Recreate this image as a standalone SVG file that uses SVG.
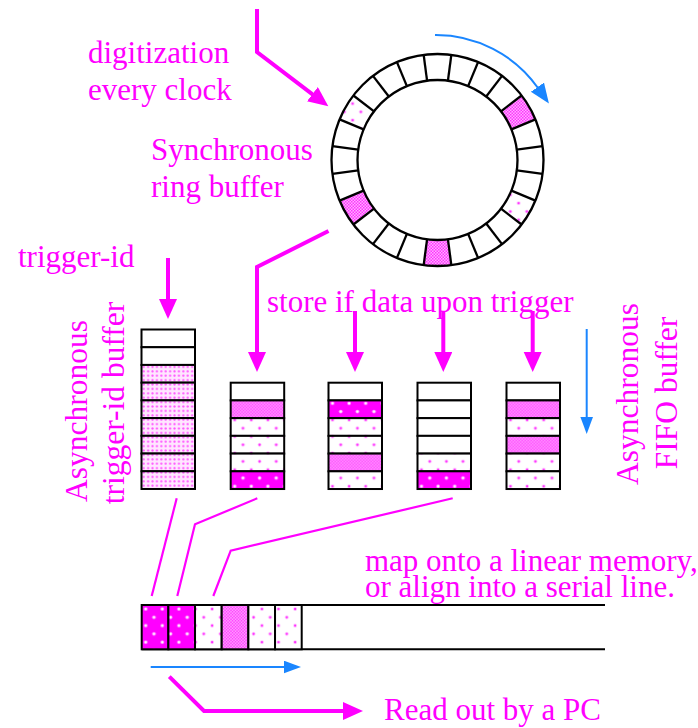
<svg xmlns="http://www.w3.org/2000/svg" xmlns:xlink="http://www.w3.org/1999/xlink" width="698" height="728" viewBox="0 0 698 728">
  <style>
    .t { font-family: "Liberation Serif", "Times New Roman", serif; font-size: 31px; fill: #ff00ff; }
    .tv { font-family: "Liberation Serif", "Times New Roman", serif; font-size: 31.5px; fill: #ff00ff; text-anchor: middle; }
    .cell { stroke: #000; stroke-width: 2; }
    .ring { fill: none; stroke: #000; stroke-width: 2.3; }
    .mag { fill: none; stroke: #ff00ff; stroke-width: 4; }
    .thin { fill: none; stroke: #ff00ff; stroke-width: 2.2; }
    .blue { fill: none; stroke: #1a86ff; stroke-width: 2; }
    .w { fill: #fff; }
    .sp { fill: url(#dots); }
    .md { fill: url(#fine); }
    .dn { fill: url(#dense); }
    .mg { fill: url(#solid); }
  </style>
  <defs>
    <!-- sparse pink dots on white -->
    <pattern id="dots" width="16.6" height="16.6" patternUnits="userSpaceOnUse">
      <rect width="16.6" height="16.6" fill="#fff"/>
      <circle cx="4" cy="4" r="1.9" fill="#ffb8ff"/>
      <circle cx="4" cy="4" r="1.1" fill="#ff22ff"/>
      <circle cx="12.3" cy="12.3" r="1.9" fill="#ffb8ff"/>
      <circle cx="12.3" cy="12.3" r="1.1" fill="#ff22ff"/>
    </pattern>
    <!-- close grid of pink dots -->
    <pattern id="fine" width="4.4" height="4.4" patternUnits="userSpaceOnUse">
      <rect width="4.4" height="4.4" fill="#ffe6ff"/>
      <circle cx="2.2" cy="2.2" r="1.1" fill="#ff55ff"/>
    </pattern>
    <!-- fine pink checker -->
    <pattern id="dense" width="3" height="3" patternUnits="userSpaceOnUse">
      <rect width="3" height="3" fill="#ffb0ff"/>
      <rect width="1.5" height="1.5" fill="#ff33ff"/>
      <rect x="1.5" y="1.5" width="1.5" height="1.5" fill="#ff33ff"/>
    </pattern>
    <!-- magenta with white dots -->
    <pattern id="solid" width="16.6" height="16.6" patternUnits="userSpaceOnUse">
      <rect width="16.6" height="16.6" fill="#ff00ff"/>
      <circle cx="4" cy="4" r="1.9" fill="#ff99ff"/>
      <circle cx="4" cy="4" r="1.1" fill="#fff"/>
      <circle cx="12.3" cy="12.3" r="1.9" fill="#ff99ff"/>
      <circle cx="12.3" cy="12.3" r="1.1" fill="#fff"/>
    </pattern>
    <marker id="headM" markerUnits="userSpaceOnUse" markerWidth="22" markerHeight="20" refX="1" refY="9" orient="auto">
      <path d="M0,0 L20,9 L0,18 Z" fill="#ff00ff"/>
    </marker>
    <marker id="headB" markerUnits="userSpaceOnUse" markerWidth="19" markerHeight="14" refX="1" refY="6.3" orient="auto">
      <path d="M0,0 L17,6.3 L0,12.6 Z" fill="#1a86ff"/>
    </marker>
    <marker id="headBL" markerUnits="userSpaceOnUse" markerWidth="22" markerHeight="18" refX="1" refY="8" orient="auto">
      <path d="M0,0 L20,8 L0,16 Z" fill="#1a86ff"/>
    </marker>
    <line id="divider" x1="517.5" y1="160" x2="543.5" y2="160"/>
  </defs>

  <rect width="698" height="728" fill="#fff"/>

  <!-- synchronous ring buffer: 24 slots -->
  <g id="ring-buffer">
    <path class="dn" d="M521.60,95.47 A106,106 0 0 1 535.43,119.44 L511.41,129.39 A80,80 0 0 0 500.97,111.30 Z"/>
    <path class="sp" d="M535.43,200.56 A106,106 0 0 1 521.60,224.53 L500.97,208.70 A80,80 0 0 0 511.41,190.61 Z"/>
    <path class="dn" d="M451.34,265.09 A106,106 0 0 1 423.66,265.09 L427.06,239.32 A80,80 0 0 0 447.94,239.32 Z"/>
    <path class="dn" d="M353.40,224.53 A106,106 0 0 1 339.57,200.56 L363.59,190.61 A80,80 0 0 0 374.03,208.70 Z"/>
    <path class="sp" d="M339.57,119.44 A106,106 0 0 1 353.40,95.47 L374.03,111.30 A80,80 0 0 0 363.59,129.39 Z"/>
    <circle class="ring" cx="437.5" cy="160" r="106"/>
    <circle class="ring" cx="437.5" cy="160" r="80"/>
    <g class="ring">
      <use xlink:href="#divider" transform="rotate(7.5 437.5 160)"/>
      <use xlink:href="#divider" transform="rotate(22.5 437.5 160)"/>
      <use xlink:href="#divider" transform="rotate(37.5 437.5 160)"/>
      <use xlink:href="#divider" transform="rotate(52.5 437.5 160)"/>
      <use xlink:href="#divider" transform="rotate(67.5 437.5 160)"/>
      <use xlink:href="#divider" transform="rotate(82.5 437.5 160)"/>
      <use xlink:href="#divider" transform="rotate(97.5 437.5 160)"/>
      <use xlink:href="#divider" transform="rotate(112.5 437.5 160)"/>
      <use xlink:href="#divider" transform="rotate(127.5 437.5 160)"/>
      <use xlink:href="#divider" transform="rotate(142.5 437.5 160)"/>
      <use xlink:href="#divider" transform="rotate(157.5 437.5 160)"/>
      <use xlink:href="#divider" transform="rotate(172.5 437.5 160)"/>
      <use xlink:href="#divider" transform="rotate(187.5 437.5 160)"/>
      <use xlink:href="#divider" transform="rotate(202.5 437.5 160)"/>
      <use xlink:href="#divider" transform="rotate(217.5 437.5 160)"/>
      <use xlink:href="#divider" transform="rotate(232.5 437.5 160)"/>
      <use xlink:href="#divider" transform="rotate(247.5 437.5 160)"/>
      <use xlink:href="#divider" transform="rotate(262.5 437.5 160)"/>
      <use xlink:href="#divider" transform="rotate(277.5 437.5 160)"/>
      <use xlink:href="#divider" transform="rotate(292.5 437.5 160)"/>
      <use xlink:href="#divider" transform="rotate(307.5 437.5 160)"/>
      <use xlink:href="#divider" transform="rotate(322.5 437.5 160)"/>
      <use xlink:href="#divider" transform="rotate(337.5 437.5 160)"/>
      <use xlink:href="#divider" transform="rotate(352.5 437.5 160)"/>
    </g>
  </g>

  <!-- asynchronous trigger-id buffer: 9 slots -->
  <g id="trigger-id-buffer" class="cell" transform="translate(141.5,329.5)">
    <rect class="w" x="0" y="0" width="53.5" height="17.72"/>
    <rect class="w" x="0" y="17.72" width="53.5" height="17.72"/>
    <rect class="md" x="0" y="35.44" width="53.5" height="17.72"/>
    <rect class="md" x="0" y="53.16" width="53.5" height="17.72"/>
    <rect class="md" x="0" y="70.88" width="53.5" height="17.72"/>
    <rect class="md" x="0" y="88.6" width="53.5" height="17.72"/>
    <rect class="md" x="0" y="106.32" width="53.5" height="17.72"/>
    <rect class="md" x="0" y="124.04" width="53.5" height="17.72"/>
    <rect class="md" x="0" y="141.76" width="53.5" height="17.72"/>
  </g>

  <!-- asynchronous FIFO buffers: 6 slots each -->
  <g id="fifo-1" class="cell" transform="translate(230.7,382.7)">
    <rect class="w" x="0" y="0" width="53.5" height="17.72"/>
    <rect class="dn" x="0" y="17.72" width="53.5" height="17.72"/>
    <rect class="sp" x="0" y="35.44" width="53.5" height="17.72"/>
    <rect class="sp" x="0" y="53.16" width="53.5" height="17.72"/>
    <rect class="sp" x="0" y="70.88" width="53.5" height="17.72"/>
    <rect class="mg" x="0" y="88.6" width="53.5" height="17.72"/>
  </g>
  <g id="fifo-2" class="cell" transform="translate(328.5,382.7)">
    <rect class="w" x="0" y="0" width="53.5" height="17.72"/>
    <rect class="mg" x="0" y="17.72" width="53.5" height="17.72"/>
    <rect class="sp" x="0" y="35.44" width="53.5" height="17.72"/>
    <rect class="sp" x="0" y="53.16" width="53.5" height="17.72"/>
    <rect class="dn" x="0" y="70.88" width="53.5" height="17.72"/>
    <rect class="sp" x="0" y="88.6" width="53.5" height="17.72"/>
  </g>
  <g id="fifo-3" class="cell" transform="translate(417.5,382.7)">
    <rect class="w" x="0" y="0" width="53.5" height="17.72"/>
    <rect class="w" x="0" y="17.72" width="53.5" height="17.72"/>
    <rect class="w" x="0" y="35.44" width="53.5" height="17.72"/>
    <rect class="w" x="0" y="53.16" width="53.5" height="17.72"/>
    <rect class="sp" x="0" y="70.88" width="53.5" height="17.72"/>
    <rect class="mg" x="0" y="88.6" width="53.5" height="17.72"/>
  </g>
  <g id="fifo-4" class="cell" transform="translate(506.5,382.7)">
    <rect class="w" x="0" y="0" width="53.5" height="17.72"/>
    <rect class="dn" x="0" y="17.72" width="53.5" height="17.72"/>
    <rect class="sp" x="0" y="35.44" width="53.5" height="17.72"/>
    <rect class="dn" x="0" y="53.16" width="53.5" height="17.72"/>
    <rect class="sp" x="0" y="70.88" width="53.5" height="17.72"/>
    <rect class="sp" x="0" y="88.6" width="53.5" height="17.72"/>
  </g>

  <!-- linear memory / serial line -->
  <g id="linear-memory" class="cell" transform="translate(141.7,605)">
    <line x1="0" y1="0" x2="463.3" y2="0"/>
    <line x1="0" y1="44.3" x2="463.3" y2="44.3"/>
    <rect class="mg" x="0" y="0" width="26.67" height="44.3"/>
    <rect class="mg" x="26.67" y="0" width="26.67" height="44.3"/>
    <rect class="sp" x="53.33" y="0" width="26.67" height="44.3"/>
    <rect class="dn" x="80" y="0" width="26.67" height="44.3"/>
    <rect class="sp" x="106.67" y="0" width="26.67" height="44.3"/>
    <rect class="sp" x="133.33" y="0" width="26.67" height="44.3"/>
  </g>

  <!-- connectors -->
  <g id="connectors">
    <path class="mag" d="M257,9 L257,52 L313.2,94.8" marker-end="url(#headM)"/>
    <path class="mag" d="M328.5,231 L257,267 L257,353" marker-end="url(#headM)"/>
    <path class="mag" d="M355,311 L355,353" marker-end="url(#headM)"/>
    <path class="mag" d="M443.3,311 L443.3,353" marker-end="url(#headM)"/>
    <path class="mag" d="M532.7,311 L532.7,353" marker-end="url(#headM)"/>
    <path class="mag" d="M168,258 L168,300" marker-end="url(#headM)"/>
    <path class="mag" d="M169.3,676.7 L204,711 L344,711" marker-end="url(#headM)"/>
    <path class="thin" d="M176.7,498.3 L151.7,596"/>
    <path class="thin" d="M257.3,498.3 L195,524.3 L177.3,596"/>
    <path class="thin" d="M452.7,498.3 L230.7,550.7 L213.3,596"/>
    <path class="blue" d="M435,35 A125,125 0 0 1 538,88" marker-end="url(#headBL)"/>
    <path class="blue" d="M586.7,329 L586.7,418" marker-end="url(#headB)"/>
    <path class="blue" d="M150.7,667 L285,667" marker-end="url(#headB)"/>
  </g>

  <!-- labels -->
  <g id="labels">
    <text class="t" x="88" y="63">digitization</text>
    <text class="t" x="88" y="100">every clock</text>
    <text class="t" x="151" y="160">Synchronous</text>
    <text class="t" x="151" y="197">ring buffer</text>
    <text class="t" x="18" y="267">trigger-id</text>
    <text class="t" x="267" y="312">store if data upon trigger</text>
    <text class="t" x="365" y="571">map onto a linear memory,</text>
    <text class="t" x="365" y="597">or align into a serial line.</text>
    <text class="t" x="384" y="720">Read out by a PC</text>
    <text class="tv" transform="translate(87,411) rotate(-90)">Asynchronous</text>
    <text class="tv" transform="translate(124,403) rotate(-90)">trigger-id buffer</text>
    <text class="tv" transform="translate(638,394) rotate(-90)">Asynchronous</text>
    <text class="tv" transform="translate(677,393) rotate(-90)">FIFO buffer</text>
  </g>
</svg>
